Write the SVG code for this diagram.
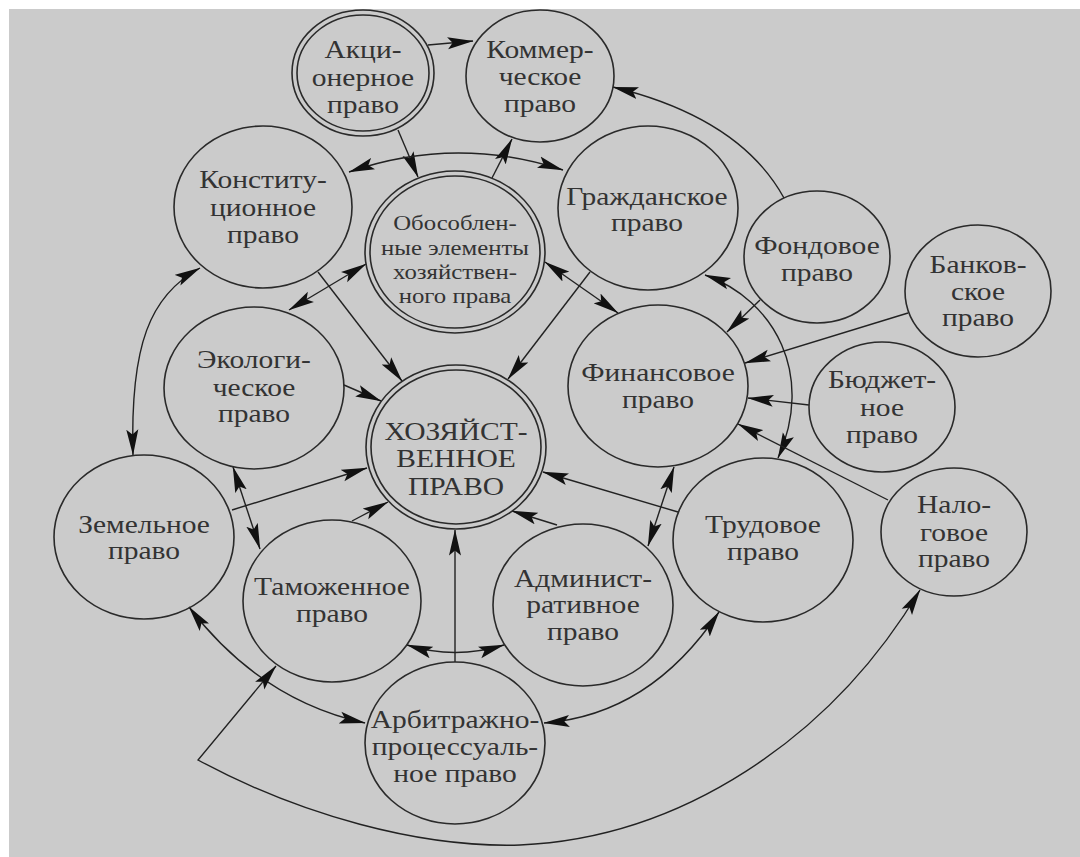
<svg xmlns="http://www.w3.org/2000/svg" width="1080" height="857" viewBox="0 0 1080 857">
<style>
.c{fill:none;stroke:#2a2a2a;stroke-width:1.6}
.t{font-family:"Liberation Serif","DejaVu Serif",serif;font-size:25px;fill:#333;text-anchor:middle}
.s{font-size:21px}
.l{fill:none;stroke:#222;stroke-width:1.4}
.e{marker-end:url(#arr)}
.b{marker-start:url(#arr);marker-end:url(#arr)}
</style>
<defs>
<marker id="arr" viewBox="0 0 26 13" refX="25.5" refY="6.5" markerWidth="26" markerHeight="13" markerUnits="userSpaceOnUse" orient="auto-start-reverse">
<path d="M0,0.5 L26,6.5 L0,12.5 L5,6.5 z" fill="#111"/>
</marker>
</defs>
<rect x="9" y="9" width="1071" height="848" fill="#cbcbcb"/>
<g id="connectors">
<path class="l e" d="M428,45 L473,41"/>
<path class="l e" d="M398,130 L418,177"/>
<path class="l b" d="M349,172 Q455,135 563,170"/>
<path class="l e" d="M492,178 L512,139"/>
<path class="l e" d="M784,198 Q740,118 613,87"/>
<path class="l b" d="M200,268 C150,295 130,345 133,455"/>
<path class="l e" d="M318,272 L402,381"/>
<path class="l b" d="M289,310 L366,264"/>
<path class="l b" d="M545,262 L618,313"/>
<path class="l e" d="M590,272 L508,379"/>
<path class="l e" d="M344,385 L381,401"/>
<path class="l e" d="M760,300 L727,332"/>
<path class="l b" d="M705,275 C775,300 815,375 778,458"/>
<path class="l e" d="M908,313 L745,363"/>
<path class="l e" d="M809,405 L748,398"/>
<path class="l e" d="M888,500 L738,424"/>
<path class="l b" d="M674,467 L648,546"/>
<path class="l e" d="M678,512 L543,472"/>
<path class="l e" d="M557,525 L512,511"/>
<path class="l e" d="M232,510 L367,468"/>
<path class="l b" d="M233,467 L260,549"/>
<path class="l e" d="M352,521 L388,502"/>
<path class="l e" d="M455,662 L455,530"/>
<path class="l b" d="M407,645 Q455,660 504,645"/>
<path class="l b" d="M189,607 Q260,700 365,723"/>
<path class="l b" d="M276,666 L198,760 C300,815 420,848 520,845 C680,838 830,740 920,590"/>
<path class="l b" d="M544,723 Q650,715 719,612"/>
</g>
<g id="nodes">
<g id="n-akc">
<ellipse class="c" cx="363" cy="73" rx="71" ry="63"/>
<ellipse class="c" cx="363" cy="73" rx="66" ry="58"/>
<text class="t" transform="matrix(1.18 0 0 1 363 0)"><tspan x="0" y="58">Акци-</tspan><tspan x="0" y="86">онерное</tspan><tspan x="0" y="113">право</tspan></text>
</g>
<g id="n-kom">
<ellipse class="c" cx="540" cy="76" rx="74" ry="66"/>
<text class="t" transform="matrix(1.18 0 0 1 540 0)"><tspan x="0" y="58">Коммер-</tspan><tspan x="0" y="85">ческое</tspan><tspan x="0" y="112">право</tspan></text>
</g>
<g id="n-konst">
<ellipse class="c" cx="263" cy="207" rx="89" ry="81"/>
<text class="t" transform="matrix(1.18 0 0 1 263 0)"><tspan x="0" y="188">Конститу-</tspan><tspan x="0" y="216">ционное</tspan><tspan x="0" y="243">право</tspan></text>
</g>
<g id="n-obos">
<ellipse class="c" cx="455" cy="252" rx="90" ry="81"/>
<ellipse class="c" cx="455" cy="252" rx="85" ry="76"/>
<text class="t s" transform="matrix(1.18 0 0 1 455 0)"><tspan x="0" y="230">Обособлен-</tspan><tspan x="0" y="255">ные элементы</tspan><tspan x="0" y="279">хозяйствен-</tspan><tspan x="0" y="303">ного права</tspan></text>
</g>
<g id="n-grazh">
<ellipse class="c" cx="648" cy="208" rx="90" ry="82"/>
<text class="t" transform="matrix(1.18 0 0 1 647 0)"><tspan x="0" y="205">Гражданское</tspan><tspan x="0" y="231">право</tspan></text>
</g>
<g id="n-fond">
<ellipse class="c" cx="817" cy="257" rx="73" ry="66"/>
<text class="t" transform="matrix(1.18 0 0 1 817 0)"><tspan x="0" y="254">Фондовое</tspan><tspan x="0" y="281">право</tspan></text>
</g>
<g id="n-bank">
<ellipse class="c" cx="978" cy="291" rx="73" ry="66"/>
<text class="t" transform="matrix(1.18 0 0 1 978 0)"><tspan x="0" y="273">Банков-</tspan><tspan x="0" y="300">ское</tspan><tspan x="0" y="326">право</tspan></text>
</g>
<g id="n-ekol">
<ellipse class="c" cx="254" cy="388" rx="90" ry="81"/>
<text class="t" transform="matrix(1.18 0 0 1 254 0)"><tspan x="0" y="368">Экологи-</tspan><tspan x="0" y="396">ческое</tspan><tspan x="0" y="422">право</tspan></text>
</g>
<g id="n-hoz">
<ellipse class="c" cx="456" cy="447" rx="90" ry="82"/>
<ellipse class="c" cx="456" cy="447" rx="85" ry="77"/>
<text class="t" transform="matrix(1.18 0 0 1 456 0)"><tspan x="0" y="440">ХОЗЯЙСТ-</tspan><tspan x="0" y="467">ВЕННОЕ</tspan><tspan x="0" y="495">ПРАВО</tspan></text>
</g>
<g id="n-fin">
<ellipse class="c" cx="658" cy="386" rx="90" ry="81"/>
<text class="t" transform="matrix(1.18 0 0 1 658 0)"><tspan x="0" y="381">Финансовое</tspan><tspan x="0" y="408">право</tspan></text>
</g>
<g id="n-budzh">
<ellipse class="c" cx="882" cy="407" rx="73" ry="65"/>
<text class="t" transform="matrix(1.18 0 0 1 882 0)"><tspan x="0" y="388">Бюджет-</tspan><tspan x="0" y="416">ное</tspan><tspan x="0" y="443">право</tspan></text>
</g>
<g id="n-nal">
<ellipse class="c" cx="954" cy="532" rx="73" ry="64"/>
<text class="t" transform="matrix(1.18 0 0 1 954 0)"><tspan x="0" y="513">Нало-</tspan><tspan x="0" y="541">говое</tspan><tspan x="0" y="567">право</tspan></text>
</g>
<g id="n-trud">
<ellipse class="c" cx="763" cy="540" rx="90" ry="82"/>
<text class="t" transform="matrix(1.18 0 0 1 763 0)"><tspan x="0" y="533">Трудовое</tspan><tspan x="0" y="560">право</tspan></text>
</g>
<g id="n-zem">
<ellipse class="c" cx="144" cy="537" rx="90" ry="82"/>
<text class="t" transform="matrix(1.18 0 0 1 144 0)"><tspan x="0" y="533">Земельное</tspan><tspan x="0" y="559">право</tspan></text>
</g>
<g id="n-tam">
<ellipse class="c" cx="332" cy="601" rx="89" ry="81"/>
<text class="t" transform="matrix(1.18 0 0 1 332 0)"><tspan x="0" y="595">Таможенное</tspan><tspan x="0" y="622">право</tspan></text>
</g>
<g id="n-adm">
<ellipse class="c" cx="583" cy="605" rx="90" ry="81"/>
<text class="t" transform="matrix(1.18 0 0 1 583 0)"><tspan x="0" y="587">Админист-</tspan><tspan x="0" y="613">ративное</tspan><tspan x="0" y="640">право</tspan></text>
</g>
<g id="n-arb">
<ellipse class="c" cx="455" cy="743" rx="90" ry="81"/>
<text class="t" transform="matrix(1.18 0 0 1 455 0)"><tspan x="0" y="728">Арбитражно-</tspan><tspan x="0" y="755">процессуаль-</tspan><tspan x="0" y="782">ное право</tspan></text>
</g>
</g>
</svg>
